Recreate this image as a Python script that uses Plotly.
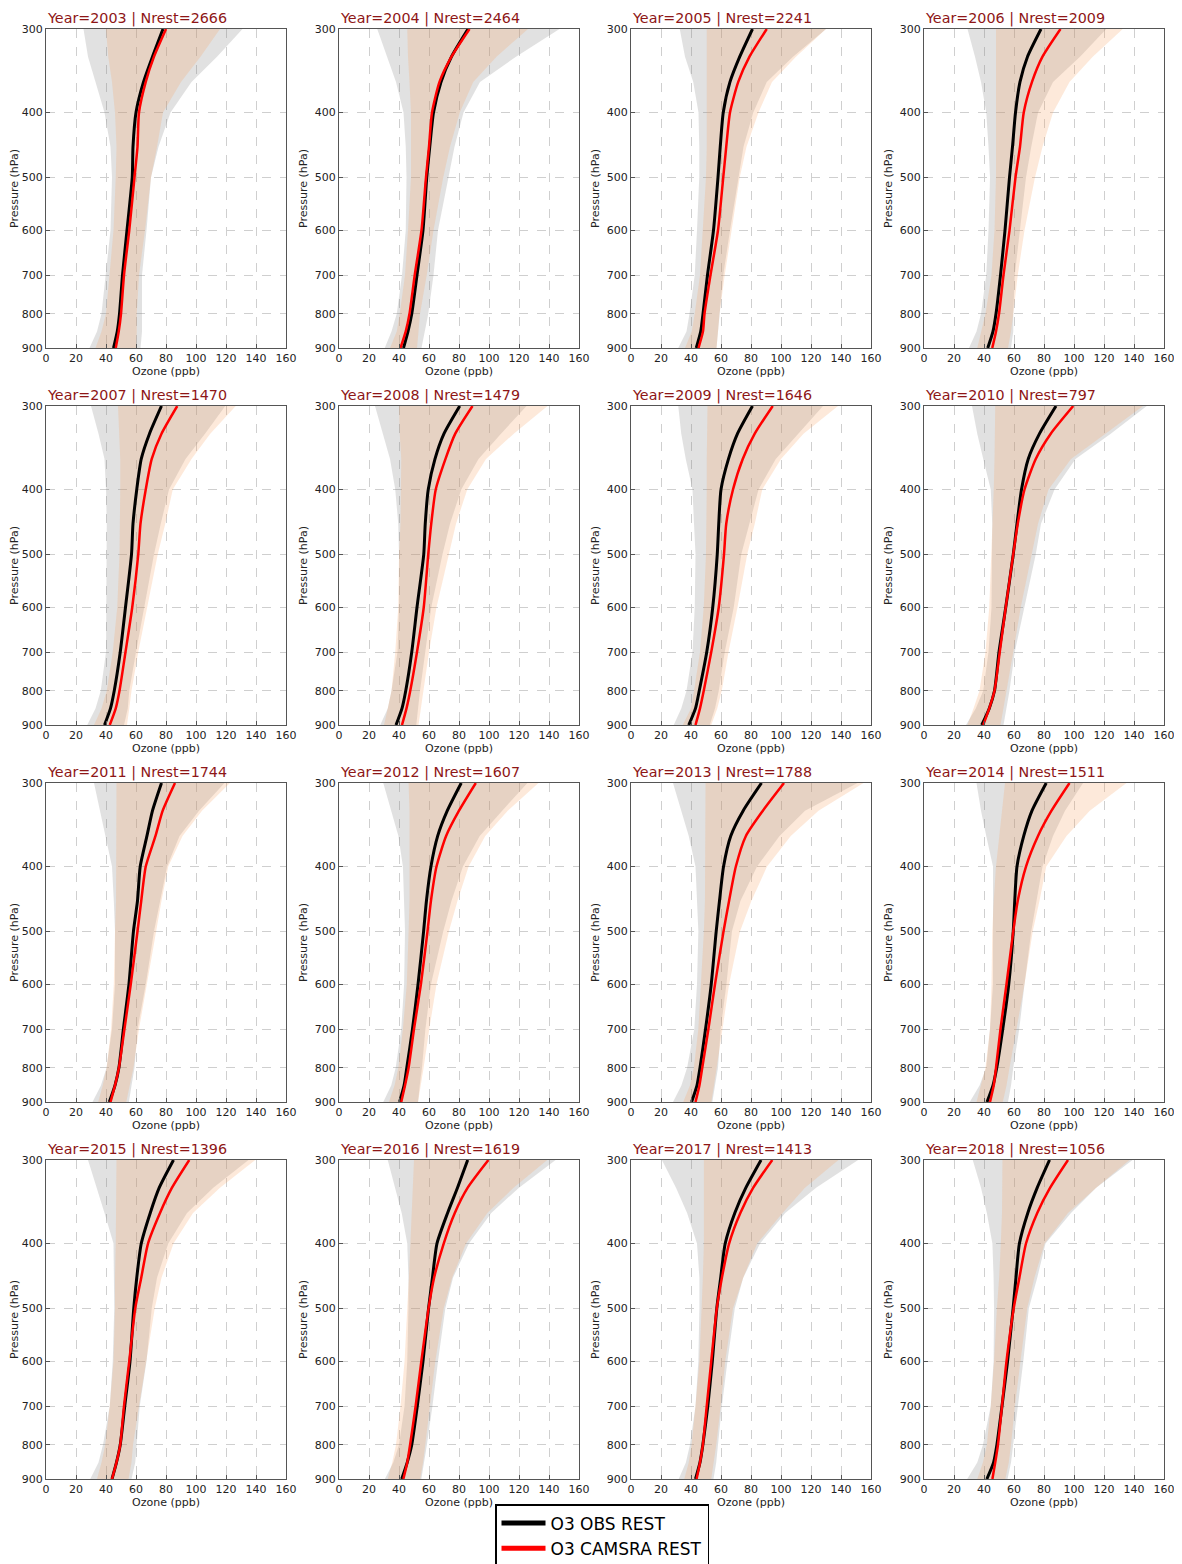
import numpy as np
import plotly.graph_objects as go
from plotly.subplots import make_subplots

# Pressure levels (hPa)
pressure = [300, 330, 360, 400, 450, 500, 600, 700, 800, 850, 900]

years = [2003, 2004, 2005, 2006, 2007, 2008, 2009, 2010,
         2011, 2012, 2013, 2014, 2015, 2016, 2017, 2018]
nrest = [2666, 2464, 2241, 2009, 1470, 1479, 1646, 797,
         1744, 1607, 1788, 1511, 1396, 1619, 1413, 1056]

# ---- 2003
obs_2003 = [78, 71, 65, 60, 58, 57.5, 54, 51, 49, 47.5, 45]
cams_2003 = [80, 72, 66.5, 62, 61, 59, 55.5, 52, 50, 48.5, 46.5]
obs_lo_2003 = [25, 28, 33, 39, 43, 44, 43, 40, 37, 34, 29]
obs_hi_2003 = [131, 114, 97, 83, 75, 70, 67, 64, 64, 64, 63]
cams_lo_2003 = [40, 41.5, 44, 46, 47, 46.5, 45, 42.5, 40, 37, 33]
cams_hi_2003 = [116, 103, 90, 78, 74, 70, 66, 62, 60.5, 60.5, 60]
# ---- 2004
obs_2004 = [86, 75, 68, 63, 60.5, 58.5, 56, 52, 48.5, 46, 43]
cams_2004 = [87, 75, 67, 62, 60, 58, 55, 50.5, 47, 44.5, 41]
obs_lo_2004 = [25.5, 32, 38, 43, 44.5, 45, 44.5, 42, 38.5, 35, 30.5]
obs_hi_2004 = [147, 118, 94, 83, 77, 73, 66, 63, 59.5, 57, 55]
cams_lo_2004 = [45.5, 46, 47, 48, 48, 48, 46, 44, 40.5, 38.5, 34]
cams_hi_2004 = [126, 105, 89.5, 80.5, 74, 69.5, 63, 58.5, 54, 53, 52]
# ---- 2005
obs_2005 = [81, 72.5, 66, 61.5, 59.5, 58, 55, 51, 48, 46.5, 43.5]
cams_2005 = [90.5, 79, 71.5, 66, 63.5, 61.5, 58, 53, 49, 48, 45]
obs_lo_2005 = [32.5, 36, 41.5, 45, 45.5, 45.5, 44, 42.5, 39, 37, 31.5]
obs_hi_2005 = [130, 108, 90.5, 81.5, 75, 71.5, 66, 61.5, 59, 58, 57]
cams_lo_2005 = [50.5, 50.5, 51, 51, 50.5, 50, 48, 46, 42.5, 40.5, 36]
cams_hi_2005 = [130, 110, 94, 85, 77, 72.5, 67, 62.5, 59, 58, 57]
# ---- 2006
obs_2006 = [78, 69, 64, 61, 59, 57, 54, 51, 48, 46, 42.5]
cams_2006 = [91, 79, 72, 66.5, 64, 61, 57, 53, 50, 48, 45.5]
obs_lo_2006 = [29, 34, 38, 41.5, 43, 44, 43, 41.5, 38, 35, 30]
obs_hi_2006 = [121.5, 104, 86, 76, 71.5, 68, 64, 60.5, 59.5, 59.5, 58]
cams_lo_2006 = [48, 48, 48, 48, 48, 48, 47, 45, 41, 38, 35.5]
cams_hi_2006 = [132.5, 112.5, 97, 86, 79, 74, 67, 62.5, 59.5, 58, 56]
# ---- 2007
obs_2007 = [77, 69, 63.5, 60.5, 58, 57, 53, 49.5, 45.5, 43, 39]
cams_2007 = [87.5, 77, 70.5, 66.5, 63, 61.5, 57.5, 53, 49, 46.5, 42.5]
obs_lo_2007 = [30, 35, 39, 40, 40.5, 40.5, 40.5, 40, 36.5, 33, 27.5]
obs_hi_2007 = [119.5, 106, 93, 82, 76.5, 72, 65.5, 60, 55.5, 54.5, 52]
cams_lo_2007 = [48, 49, 49.5, 49.5, 49.5, 49, 47.5, 44.5, 40.5, 37, 32]
cams_hi_2007 = [126.5, 109.5, 97, 84.5, 79.5, 74.5, 67.5, 61.5, 57, 55.5, 54]
# ---- 2008
obs_2008 = [80.5, 70, 64, 59.5, 57.5, 56.5, 52, 48.5, 44.5, 42, 38]
cams_2008 = [89, 77.5, 71, 64.5, 61.5, 59.5, 56.5, 52, 47.5, 45, 42]
obs_lo_2008 = [24, 29, 34, 37.5, 39.5, 40, 40, 39, 35, 32.5, 27.5]
obs_hi_2008 = [125, 108, 93, 81.5, 74, 69, 61.5, 57.5, 54, 52.5, 51.5]
cams_lo_2008 = [40, 40.5, 41.5, 41.5, 41, 40, 39.5, 37.5, 35, 32.5, 30]
cams_hi_2008 = [139, 116.5, 98, 85.5, 78, 73, 65, 60, 56.5, 54.5, 53]
# ---- 2009
obs_2009 = [81, 71, 65, 60, 58.5, 57.5, 54.5, 50.5, 45.5, 43, 38.5]
cams_2009 = [94.5, 82.5, 74.5, 68, 63.5, 62, 58.5, 53.5, 48.5, 46, 43]
obs_lo_2009 = [31.5, 33.5, 36.5, 41, 42, 43, 42.5, 41, 37, 33.5, 28.5]
obs_hi_2009 = [128, 111.5, 96.5, 85, 79, 73.5, 68.5, 62.5, 58.5, 56, 52.5]
cams_lo_2009 = [51, 50.5, 50.5, 50.5, 50.5, 50, 48.5, 46, 42, 40, 34.5]
cams_hi_2009 = [138, 115, 100, 87.5, 82.5, 77.5, 71, 65, 60.5, 57.5, 53.5]
# ---- 2010
obs_2010 = [88, 77, 69.5, 65, 62, 59.5, 54.5, 50, 47, 43.5, 38.5]
cams_2010 = [99.5, 84.5, 74.5, 67, 62.5, 59.5, 54.5, 50.5, 47, 43.5, 39.5]
obs_lo_2010 = [32, 35.5, 39.5, 44.5, 45.5, 45.5, 45, 43, 39.5, 34.5, 28]
obs_hi_2010 = [148.5, 124.5, 101, 87, 78, 74.5, 67, 60.5, 57, 55, 53]
cams_lo_2010 = [47.5, 47.5, 47, 46.5, 45.5, 45, 43.5, 41, 37, 33, 29]
cams_hi_2010 = [146, 121, 98, 83, 76, 72, 64.5, 59.5, 55, 53, 51]
# ---- 2011
obs_2011 = [77, 71, 67.3, 62.8, 61, 58.3, 55.3, 51.6, 48.6, 46, 42.2]
cams_2011 = [86, 77.8, 73, 66.5, 63.5, 61, 56.5, 52.3, 48.6, 46, 43]
obs_lo_2011 = [32, 36, 39.6, 44, 45.2, 46, 46, 44, 40.4, 36.6, 31]
obs_hi_2011 = [119, 102, 89, 80.7, 76, 72, 66.5, 61, 59, 57, 55.3]
cams_lo_2011 = [47, 47, 47, 47, 46.7, 46, 45.2, 43.4, 40.4, 37.8, 34.8]
cams_hi_2011 = [122.6, 104, 91, 81.5, 77, 73.3, 67.3, 62, 58.3, 56, 53.5]
# ---- 2012
obs_2012 = [81.5, 72.2, 65.8, 61.3, 58.3, 56.4, 52.7, 49, 45.2, 43.4, 40.4]
cams_2012 = [91.2, 80, 71.4, 65, 61.3, 59, 54.6, 50, 46.4, 44, 41.5]
obs_lo_2012 = [29.5, 35, 39.6, 42.6, 43.4, 44, 43.4, 41.5, 37.8, 34.8, 29.5]
obs_hi_2012 = [125.6, 108.8, 93.8, 82.6, 75, 69.5, 61.3, 57.6, 55.3, 53.8, 52.7]
cams_lo_2012 = [46.4, 47, 47, 47, 47, 46.4, 45.2, 42.6, 39.6, 37, 33.3]
cams_hi_2012 = [133, 112.5, 97.5, 86.4, 79, 73.3, 65, 60.2, 56.4, 54.6, 52.7]
# ---- 2013
obs_2013 = [87, 74.8, 66.5, 61.7, 59, 56.8, 53.5, 49.7, 46, 44, 40.4]
cams_2013 = [102, 87.9, 76.6, 69.9, 65.4, 61.7, 56, 51.6, 47.5, 45.6, 43]
obs_lo_2013 = [28, 33.6, 38.5, 43, 44, 44.9, 44, 42.2, 37.4, 33.6, 28]
obs_hi_2013 = [151, 116, 99, 84, 73, 67.3, 63.6, 59.8, 58, 56, 54.2]
cams_lo_2013 = [49.7, 49.7, 49.7, 49.7, 49.3, 48.6, 46.7, 44.9, 41.9, 39.3, 34.8]
cams_hi_2013 = [155, 125, 106.5, 90.7, 80.3, 72.7, 65.4, 61, 57.2, 55.3, 53.5]
# ---- 2014
obs_2014 = [81.5, 72, 66.5, 62, 60.5, 59.5, 56.5, 52.5, 48.5, 46, 42]
cams_2014 = [97, 85, 76, 68, 62.5, 59.5, 55, 51, 48, 46.5, 44]
obs_lo_2014 = [35, 38, 41.5, 46, 46, 46, 46, 44, 41.5, 37, 30.5]
obs_hi_2014 = [106, 94, 86, 79, 75, 71.5, 67, 63.5, 59.5, 58, 56]
cams_lo_2014 = [54, 52, 50.5, 48, 46.5, 45.5, 45, 44, 41, 38, 35]
cams_hi_2014 = [135, 110.5, 95, 81.5, 77, 72.5, 67, 61.5, 57, 55, 52.5]
# ---- 2015
obs_2015 = [85, 75.5, 69.5, 63.5, 60.5, 58.5, 56, 52.5, 49.5, 47, 44]
cams_2015 = [95.5, 84, 76, 68, 63.5, 59.5, 55.5, 52, 49.5, 47, 44]
obs_lo_2015 = [28, 34, 39, 45, 45.5, 45.5, 44.5, 42.5, 38, 35, 29.5]
obs_hi_2015 = [135, 111.5, 94, 81.5, 74, 70.5, 67, 62.5, 60.5, 59.5, 57]
cams_lo_2015 = [47, 47, 47, 46.5, 46, 46, 45, 42.5, 39.5, 37, 34]
cams_hi_2015 = [139.5, 116, 98, 85, 77, 72.5, 67, 62, 58, 57, 55]
# ---- 2016
obs_2016 = [85.8, 79, 72.4, 65.3, 62.3, 59.7, 56, 52.2, 48.5, 45.5, 41.8]
cams_2016 = [99.6, 85.8, 77.2, 69.8, 63.4, 59.7, 54.9, 51.1, 47.4, 45.5, 42.9]
obs_lo_2016 = [32.5, 37.3, 41.8, 45.5, 46.3, 46.3, 45.5, 43.7, 40, 36.2, 30.6]
obs_hi_2016 = [144.4, 120, 101.5, 86.6, 76, 70.9, 66, 62.3, 58.6, 56.7, 54.9]
cams_lo_2016 = [50, 49.3, 48.5, 47.4, 46.6, 45.5, 43.7, 41, 38, 35.5, 32.5]
cams_hi_2016 = [138.8, 116.4, 98.9, 84.7, 75.4, 69.8, 64.2, 60.4, 57.5, 56, 54.1]
# ---- 2017
obs_2017 = [86.7, 76.6, 69.2, 62.8, 59.8, 57.2, 54.2, 51.2, 47.9, 46, 43]
cams_2017 = [94.2, 81.5, 72.9, 65.4, 60.6, 57.2, 53.5, 50.5, 47.9, 46, 43.7]
obs_lo_2017 = [20.6, 30, 37.4, 44, 45.6, 45.6, 44.9, 43, 39.3, 36.6, 31.8]
obs_hi_2017 = [151.4, 123.4, 102.8, 86, 74.8, 69.2, 64.3, 60.6, 58, 56.8, 55]
cams_lo_2017 = [48.6, 48.6, 48.6, 48.6, 47.9, 47.1, 45.6, 43, 40.4, 38.5, 35.5]
cams_hi_2017 = [138.3, 116, 101, 84.1, 74.8, 68, 62.8, 59.8, 56.8, 55.3, 53.5]
# ---- 2018
obs_2018 = [83.7, 75.5, 69.2, 63.6, 61.3, 59.4, 55.7, 52, 48.6, 46.4, 41.9]
cams_2018 = [96, 84.1, 75.5, 68, 63.6, 59.8, 55, 52, 49.3, 47.5, 45.6]
obs_lo_2018 = [32.5, 38, 41.9, 45.6, 46.4, 46.7, 46.4, 44.5, 39.3, 35.5, 28.8]
obs_hi_2018 = [139, 114.8, 98, 81, 75.5, 69.9, 66.2, 62.4, 59.4, 58, 55.7]
cams_lo_2018 = [52.3, 52.3, 52, 51.2, 50.1, 48.6, 46.7, 44.5, 41.9, 39.3, 35.5]
cams_hi_2018 = [137, 114.8, 96, 80.4, 73.6, 68.8, 64.3, 60.6, 58, 56.5, 54.2]

x_ticks = [0, 20, 40, 60, 80, 100, 120, 140, 160]
y_ticks = [300, 400, 500, 600, 700, 800, 900]

g = globals()
panels = []
for yr in years:
    panels.append(dict(
        obs=g[f"obs_{yr}"], cams=g[f"cams_{yr}"],
        obs_lo=g[f"obs_lo_{yr}"], obs_hi=g[f"obs_hi_{yr}"],
        cams_lo=g[f"cams_lo_{yr}"], cams_hi=g[f"cams_hi_{yr}"]))

W, H = 1182, 1564
OFF = 8  # page body margin
col_x = [46, 339, 631, 924]
row_y = [29, 406, 783, 1160]
PW, PH = 240, 319

FONT = "DejaVu Sans"
GREY_FILL = "rgba(128,128,128,0.24)"
PEACH_FILL = "rgba(248,165,100,0.24)"
TITLE_COL = "#8e1616"

fig = make_subplots(rows=4, cols=4)

for i, (yr, n, d) in enumerate(zip(years, nrest, panels)):
    r, c = i // 4 + 1, i % 4 + 1
    # OBS spread band
    fig.add_trace(go.Scatter(x=d["obs_lo"] + d["obs_hi"][::-1],
                             y=pressure + pressure[::-1],
                             fill="toself", fillcolor=GREY_FILL,
                             line=dict(width=0), mode="lines",
                             hoverinfo="skip", showlegend=False), row=r, col=c)
    # CAMSRA spread band
    fig.add_trace(go.Scatter(x=d["cams_lo"] + d["cams_hi"][::-1],
                             y=pressure + pressure[::-1],
                             fill="toself", fillcolor=PEACH_FILL,
                             line=dict(width=0), mode="lines",
                             hoverinfo="skip", showlegend=False), row=r, col=c)
    fig.add_trace(go.Scatter(x=d["obs"], y=pressure, mode="lines",
                             line=dict(color="black", width=3, shape="spline", smoothing=0.6),
                             name="O3 OBS REST", showlegend=False), row=r, col=c)
    fig.add_trace(go.Scatter(x=d["cams"], y=pressure, mode="lines",
                             line=dict(color="#ff0000", width=2.5, shape="spline", smoothing=0.6),
                             name="O3 CAMSRA REST", showlegend=False), row=r, col=c)

    x0 = col_x[c - 1] - OFF
    y0 = row_y[r - 1] - OFF
    xd = [x0 / W, (x0 + PW) / W]
    yd = [1 - (y0 + PH) / H, 1 - y0 / H]
    axis_common = dict(showgrid=True, gridcolor="#cfcfcf", griddash="dash", gridwidth=1,
                       showline=True, mirror=True, linecolor="#555555", linewidth=1,
                       ticks="inside", ticklen=4, tickcolor="#555555",
                       tickfont=dict(family=FONT, size=11, color="#222222"),
                       zeroline=False, automargin=False)
    fig.update_xaxes(domain=xd, range=[0, 160], tickvals=x_ticks,
                     ticktext=[str(v) for v in x_ticks],
                     title=dict(text="Ozone (ppb)", font=dict(family=FONT, size=11, color="#222222"),
                                standoff=2),
                     **axis_common, row=r, col=c)
    fig.update_yaxes(domain=yd, type="log", range=[np.log10(900), np.log10(300)],
                     tickvals=y_ticks, ticktext=[str(v) for v in y_ticks],
                     title=dict(text="Pressure (hPa)", font=dict(family=FONT, size=11, color="#222222"),
                                standoff=4),
                     **axis_common, row=r, col=c)
    fig.add_annotation(x=xd[0], y=yd[1] + 1 / H, xref="paper", yref="paper",
                       xanchor="left", yanchor="bottom", showarrow=False, borderpad=0,
                       text=f"Year={yr} | Nrest={n}",
                       font=dict(family=FONT, size=14.3, color=TITLE_COL))

# legend-only entries
fig.add_trace(go.Scatter(x=[None], y=[None], mode="lines",
                         line=dict(color="black", width=5), name="O3 OBS REST"), row=1, col=1)
fig.add_trace(go.Scatter(x=[None], y=[None], mode="lines",
                         line=dict(color="#ff0000", width=5), name="O3 CAMSRA REST"), row=1, col=1)

fig.update_layout(
    width=W, height=H,
    margin=dict(l=0, r=0, t=0, b=0, autoexpand=False),
    paper_bgcolor="white", plot_bgcolor="white",
    font=dict(family=FONT),
    legend=dict(x=(495 - OFF) / W, y=1 - (1504 - OFF) / H, xanchor="left", yanchor="top",
                bordercolor="black", borderwidth=1.5, bgcolor="white",
                font=dict(family=FONT, size=17, color="black"),
                itemwidth=44, tracegroupgap=0),
)

fig.write_html("out.html")
